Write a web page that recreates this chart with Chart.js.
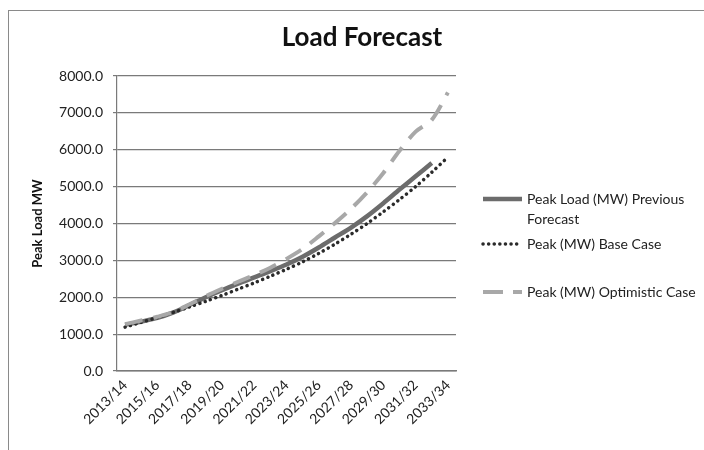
<!DOCTYPE html>
<html>
<head>
<meta charset="utf-8">
<script src="https://cdn.jsdelivr.net/npm/chart.js@4/dist/chart.umd.min.js"></script>
<style>
  html, body { margin: 0; padding: 0; background: #fff; }
  #frame { position: absolute; left: 8px; top: 10px; width: 720px; height: 460px;
           border-top: 1px solid #8a8a8a; border-left: 1px solid #8a8a8a; }
  #wrap { position: absolute; left: 0; top: 0; width: 704px; height: 450px; }
</style>
</head>
<body>
<div id="frame"></div>
<div id="wrap"><canvas id="chart" width="704" height="450"></canvas></div>
<script>
// Data
const years = [
  "2013/14", "2014/15", "2015/16", "2016/17", "2017/18", "2018/19", "2019/20",
  "2020/21", "2021/22", "2022/23", "2023/24", "2024/25", "2025/26", "2026/27",
  "2027/28", "2028/29", "2029/30", "2030/31", "2031/32", "2032/33", "2033/34"
];
const previousForecast = [1250, 1340, 1440, 1590, 1790, 2000, 2190, 2370, 2540, 2710,
  2890, 3100, 3350, 3620, 3890, 4200, 4550, 4920, 5280, 5640, null];
const baseCase = [1190, 1320, 1450, 1590, 1740, 1890, 2050, 2220, 2390, 2570,
  2760, 2960, 3190, 3440, 3710, 4000, 4320, 4650, 5000, 5390, 5800];
const optimisticCase = [1270, 1370, 1470, 1600, 1810, 2030, 2230, 2420, 2600, 2800,
  3040, 3310, 3650, 4010, 4400, 4850, 5370, 5970, 6490, 6810, 7550];
const yTicks = [0, 1000, 2000, 3000, 4000, 5000, 6000, 7000, 8000];

const font = "Lato, 'Open Sans', sans-serif";

// Legend drawn at the right like the Excel one, with line samples
const sideLegend = {
  id: "sideLegend",
  afterDraw(chart) {
    const ctx = chart.ctx;
    const rows = [199, 244, 292];
    ctx.save();
    ctx.font = "14px " + font;
    ctx.textBaseline = "middle";
    chart.data.datasets.forEach((ds, i) => {
      const y = rows[i];
      ctx.strokeStyle = ds.borderColor;
      ctx.lineWidth = ds.borderWidth;
      ctx.lineCap = ds.borderCapStyle || "butt";
      ctx.setLineDash(ds.legendDash || []);
      ctx.beginPath();
      ctx.moveTo(483, y);
      ctx.lineTo(522, y);
      ctx.stroke();
      ctx.setLineDash([]);
      // simple word wrap
      const words = ds.label.split(" ");
      let line = "";
      let ly = y;
      ctx.fillStyle = "#222";
      words.forEach(w => {
        const test = line ? line + " " + w : w;
        if (ctx.measureText(test).width > 172 && line) {
          ctx.fillText(line, 527, ly);
          line = w;
          ly += 20;
        } else {
          line = test;
        }
      });
      ctx.fillText(line, 527, ly);
    });
    ctx.restore();
  }
};

new Chart(document.getElementById("chart"), {
  type: "line",
  data: {
    labels: years,
    datasets: [
      {
        label: "Peak Load (MW) Previous Forecast",
        data: previousForecast,
        borderColor: "#6c6c6c",
        borderWidth: 4.5,
        pointRadius: 0,
        tension: 0.3,
        order: 2,
      },
      {
        label: "Peak (MW) Base Case",
        data: baseCase,
        borderColor: "#2a2a2a",
        borderWidth: 3.5,
        borderCapStyle: "round",
        borderDash: [0.1, 5.5],
        legendDash: [0.1, 5.5],
        pointRadius: 0,
        tension: 0.3,
        order: 1,
      },
      {
        label: "Peak (MW) Optimistic Case",
        data: optimisticCase,
        borderColor: "#a8a8a8",
        borderWidth: 4,
        borderDash: [18, 11],
        legendDash: [20, 10],
        pointRadius: 0,
        tension: 0.3,
        order: 0,
      },
    ],
  },
  options: {
    responsive: false,
    animation: false,
    layout: { padding: { left: 20, right: 0, top: 0, bottom: 0 } },
    plugins: {
      legend: { display: false },
      tooltip: { enabled: false },
      title: {
        display: true,
        text: "Load Forecast",
        color: "#111",
        font: { family: font, size: 26, weight: "bold" },
        padding: { top: 22, bottom: 22.8 },
      },
    },
    scales: {
      x: {
        offset: true,
        afterFit(scale) { scale.height = 79; },
        grid: { display: false, drawTicks: false },
        border: { display: true, color: "#7a7a7a", width: 1.5 },
        ticks: {
          autoSkip: false,
          maxRotation: 45,
          minRotation: 45,
          padding: 6,
          color: "#222",
          font: { family: font, size: 14 },
          callback: (v, i) => (i % 2 === 0 ? years[i] : ""),
        },
      },
      y: {
        min: 0,
        max: 8000,
        afterFit(scale) { scale.width = 97; },
        afterBuildTicks(scale) { scale.ticks = yTicks.map(v => ({ value: v })); },
        grid: { color: "#7a7a7a", lineWidth: 1.2, drawTicks: true, tickLength: 4 },
        border: { display: true, color: "#7a7a7a", width: 1.2 },
        ticks: {
          padding: 10,
          color: "#222",
          font: { family: font, size: 14 },
          callback: v => v.toFixed(1),
        },
        title: {
          display: true,
          text: "Peak Load MW",
          color: "#111",
          font: { family: font, size: 13, weight: "bold" },
          padding: { top: 10, bottom: 0 },
        },
      },
      // empty right-hand axis keeps room for the legend
      yRight: {
        position: "right",
        display: true,
        afterFit(scale) { scale.width = 248; },
        grid: { display: false, drawTicks: false },
        border: { display: false },
        ticks: { display: false },
      },
    },
  },
  plugins: [sideLegend],
});
</script>
</body>
</html>
